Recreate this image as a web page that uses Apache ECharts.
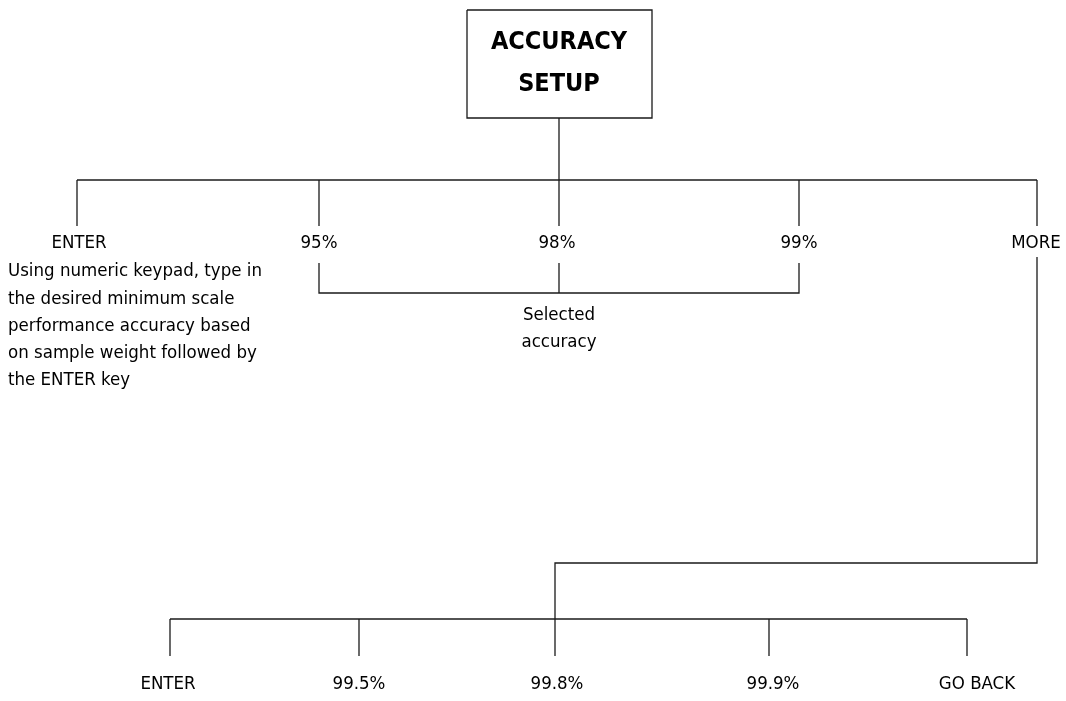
<!DOCTYPE html>
<html>
<head>
<meta charset="utf-8">
<script src="https://cdn.jsdelivr.net/npm/echarts@6/dist/echarts.min.js"></script>
<style>
html,body{margin:0;padding:0;background:#fff;}
#c{width:1066px;height:701px;}
</style>
</head>
<body>
<div id="c"></div>
<script>
// ---- content ----
const rootTitle = ['ACCURACY', 'SETUP'];
const level1Labels = ['ENTER', '95%', '98%', '99%', 'MORE'];
const level2Labels = ['ENTER', '99.5%', '99.8%', '99.9%', 'GO BACK'];
const selectedNote = ['Selected', 'accuracy'];
const enterNote = [
  'Using numeric keypad, type in',
  'the desired minimum scale',
  'performance accuracy based',
  'on sample weight followed by',
  'the ENTER key'
];

// ---- layout (pixel-like axis units) ----
const W = 1066, H = 701;
const level1X = [77, 319, 559, 799, 1037];
const level2X = [170, 359, 555, 769, 967];
const box = {x0: 467, x1: 652, y0: 10, y1: 118};
const rootX = 559;
const bar1Y = 180, stem1End = 226, label1Y = 243;
const bracketTop = 263, bracketY = 293;
const moreStart = 257, elbowY = 563, elbowX = 555;
const bar2Y = 619, stem2End = 656, label2Y = 684;

const FONT = '"DejaVu Sans Condensed", "Liberation Sans Narrow", "Liberation Sans", sans-serif';
const lineColor = '#1a1a1a';

const segs = [];
segs.push([[box.x0, box.y0], [box.x1, box.y0], [box.x1, box.y1], [box.x0, box.y1], [box.x0, box.y0]]);
segs.push([[rootX, box.y1], [rootX, bar1Y]]);
segs.push([[level1X[0], bar1Y], [level1X[level1X.length - 1], bar1Y]]);
level1X.forEach(x => segs.push([[x, bar1Y], [x, stem1End]]));
// selected-accuracy bracket (95%, 98%, 99%)
segs.push([[level1X[1], bracketTop], [level1X[1], bracketY], [level1X[3], bracketY], [level1X[3], bracketTop]]);
segs.push([[level1X[2], bracketTop], [level1X[2], bracketY]]);
// MORE path to second level
segs.push([[level1X[4], moreStart], [level1X[4], elbowY], [elbowX, elbowY], [elbowX, bar2Y]]);
segs.push([[level2X[0], bar2Y], [level2X[level2X.length - 1], bar2Y]]);
level2X.forEach(x => segs.push([[x, bar2Y], [x, stem2End]]));

const labelOffsets1 = [2, 0, -2, 0, -1];
const labelOffsets2 = [-2, 0, 2, 4, 10];

const labelPts = [];
level1Labels.forEach((t, i) => labelPts.push({name: t, value: [level1X[i] + labelOffsets1[i], label1Y]}));
level2Labels.forEach((t, i) => labelPts.push({name: t, value: [level2X[i] + labelOffsets2[i], label2Y]}));
labelPts.push({name: selectedNote.join('\n'), value: [level1X[2], 329], label: {lineHeight: 27}});
labelPts.push({name: enterNote.join('\n'), value: [8, 326], label: {align: 'left', lineHeight: 27.2}});
labelPts.push({
  name: rootTitle.join('\n'), value: [rootX, 63],
  label: {fontSize: 25, fontWeight: 'bold', lineHeight: 42, color: '#000'}
});

const chart = echarts.init(document.getElementById('c'), null, {renderer: 'canvas'});
chart.setOption({
  backgroundColor: '#ffffff',
  animation: false,
  grid: {left: 0, right: 0, top: 0, bottom: 0},
  xAxis: {type: 'value', min: 0, max: W, show: false},
  yAxis: {type: 'value', min: 0, max: H, inverse: true, show: false},
  series: [
    {
      type: 'lines',
      coordinateSystem: 'cartesian2d',
      polyline: true,
      silent: true,
      lineStyle: {color: lineColor, width: 1.3, opacity: 1},
      data: segs.map(c => ({coords: c}))
    },
    {
      type: 'scatter',
      symbolSize: 0,
      silent: true,
      itemStyle: {opacity: 1},
      data: labelPts,
      label: {
        show: true,
        position: 'inside',
        formatter: '{b}',
        fontFamily: FONT,
        fontSize: 18.5,
        color: '#000',
        lineHeight: 27
      }
    }
  ]
});
</script>
</body>
</html>
